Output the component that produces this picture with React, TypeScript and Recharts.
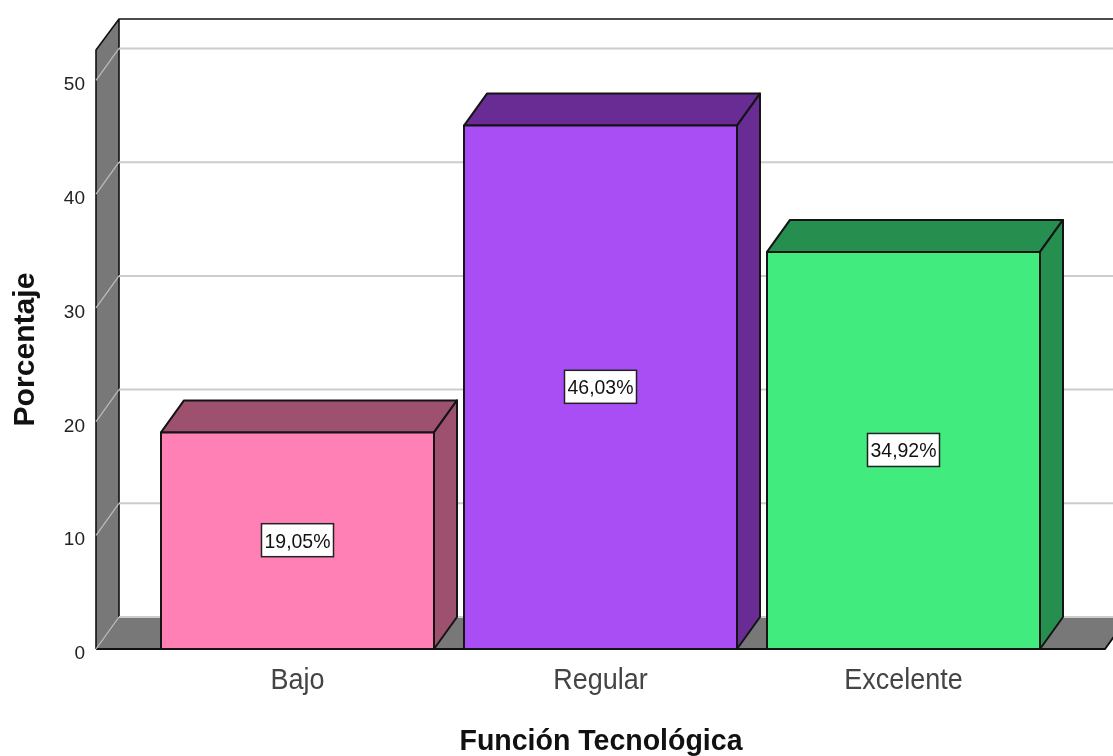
import React from "react";
import { BarChart, Bar, XAxis, YAxis, ReferenceArea, LabelList } from "recharts";

const categories = ["Bajo", "Regular", "Excelente"];
const percentages = [19.05, 46.03, 34.92];
const valueLabels = ["19,05%", "46,03%", "34,92%"];
const yTicks = [0, 10, 20, 30, 40, 50];
const frontColors = ["#ff80b4", "#a94df5", "#41eb7d"];
const sideColors = ["#9e506f", "#682c94", "#268f50"];

const data = categories.map((name, i) => ({ name, value: percentages[i], label: valueLabels[i] }));

// depth of the fake 3D projection
const DX = 23;
const DY = 32;
const AXIS_PAD = 50;
const Y_MAX = 52.68;
const FONT = "'Liberation Sans', Arial, sans-serif";

function Walls(props: any) {
  const { y, height } = props;
  const x = props.x - AXIS_PAD;
  const right = props.x + props.width + AXIS_PAD;
  const bottom = y + height;
  return (
    <g>
      <polygon
        points={`${x},${bottom} ${x + DX},${bottom - DY} ${right + DX},${bottom - DY} ${right},${bottom}`}
        fill="#787878"
      />
      <polygon
        points={`${x},${y} ${x + DX},${y - DY + 1} ${x + DX},${bottom - DY} ${x},${bottom}`}
        fill="#787878"
      />
      <path
        d={`M${x},${bottom} L${x},${y} L${x + DX},${y - DY + 1} L${right + DX},${y - DY + 1} M${x + DX},${y - DY + 1} L${x + DX},${bottom - DY}`}
        fill="none"
        stroke="#111"
        strokeWidth={1.6}
        strokeLinejoin="round"
      />
      <path d={`M${x},${bottom} L${right},${bottom} L${right + DX},${bottom - DY}`} fill="none" stroke="#111" strokeWidth={1.8} />
    </g>
  );
}

// drawn as a zero-height reference area so it stays behind the bars
function GridTick(props: any) {
  const { y } = props;
  const x1 = props.x - AXIS_PAD;
  const x2 = props.x + props.width + AXIS_PAD;
  return (
    <g>
      <line x1={x1 + DX} y1={y - DY} x2={x2 + DX} y2={y - DY} stroke="#cccccc" strokeWidth={2} />
      <line x1={x1} y1={y} x2={x1 + DX} y2={y - DY} stroke="#bdbdbd" strokeWidth={1.2} />
    </g>
  );
}

function Box3D(props: any) {
  const { x, y, width, height, index } = props;
  const r = x + width;
  const b = y + height;
  const line = { stroke: "#141414", strokeWidth: 2, strokeLinejoin: "round" as const };
  return (
    <g>
      <polygon points={`${x},${y} ${x + DX},${y - DY} ${r + DX},${y - DY} ${r},${y}`} fill={sideColors[index]} {...line} />
      <polygon points={`${r},${y} ${r + DX},${y - DY} ${r + DX},${b - DY} ${r},${b}`} fill={sideColors[index]} {...line} />
      <rect x={x} y={y} width={width} height={height} fill={frontColors[index]} {...line} />
    </g>
  );
}

function ValueBox(props: any) {
  const { x, y, width, height, value } = props;
  const cx = x + width / 2;
  const cy = y + height / 2;
  return (
    <g>
      <rect x={cx - 36} y={cy - 17} width={72} height={33} fill="#fff" stroke="#222" strokeWidth={1.5} />
      <text x={cx} y={cy + 7} textAnchor="middle" fontFamily={FONT} fontSize={21} fill="#111" textLength={66} lengthAdjust="spacingAndGlyphs">
        {value}
      </text>
    </g>
  );
}

function XTick(props: any) {
  const { x, y, payload } = props;
  return (
    <text
      transform={`translate(${x} ${y + 32}) scale(0.93 1)`}
      textAnchor="middle"
      fontFamily={FONT}
      fontSize={29}
      fill="#444"
    >
      {payload.value}
    </text>
  );
}

function YTick(props: any) {
  const { x, y, payload } = props;
  return (
    <text x={x - 3} y={y + 10} textAnchor="end" fontFamily={FONT} fontSize={19} fill="#222">
      {payload.value}
    </text>
  );
}

function YTitle() {
  return (
    <text
      transform="translate(34 349.5) rotate(-90)"
      textAnchor="middle"
      fontFamily={FONT}
      fontSize={29}
      fontWeight={700}
      fill="#111"
      textLength={154}
      lengthAdjust="spacingAndGlyphs"
    >
      Porcentaje
    </text>
  );
}

function XTitle() {
  return (
    <text
      x={601}
      y={750}
      textAnchor="middle"
      fontFamily={FONT}
      fontSize={29}
      fontWeight={700}
      fill="#111"
      textLength={283}
      lengthAdjust="spacingAndGlyphs"
    >
      Función Tecnológica
    </text>
  );
}

export default function App() {
  return (
    <div style={{ position: "absolute", left: 0, top: 0, width: 1113, height: 756, overflow: "hidden", background: "#fff" }}>
      <div style={{ filter: "blur(0.6px)" }}>
        <BarChart
          width={1113}
          height={756}
          data={data}
          margin={{ top: 50, right: 8, bottom: 0, left: 0 }}
          barSize={273}
        >
          <XAxis
            dataKey="name"
            height={107}
            padding={{ left: AXIS_PAD, right: AXIS_PAD }}
            axisLine={false}
            tickLine={false}
            interval={0}
            tick={<XTick />}
            label={<XTitle />}
          />
          <YAxis
            width={96}
            domain={[0, Y_MAX]}
            ticks={yTicks}
            axisLine={false}
            tickLine={false}
            tick={<YTick />}
            label={<YTitle />}
          />
          <ReferenceArea y1={0} y2={Y_MAX} shape={<Walls />} ifOverflow="visible" />
          {yTicks.map((t) => (
            <ReferenceArea key={t} y1={t} y2={t} shape={<GridTick />} ifOverflow="visible" />
          ))}
          <Bar dataKey="value" shape={<Box3D />} isAnimationActive={false}>
            <LabelList dataKey="label" content={<ValueBox />} />
          </Bar>
        </BarChart>
      </div>
    </div>
  );
}
